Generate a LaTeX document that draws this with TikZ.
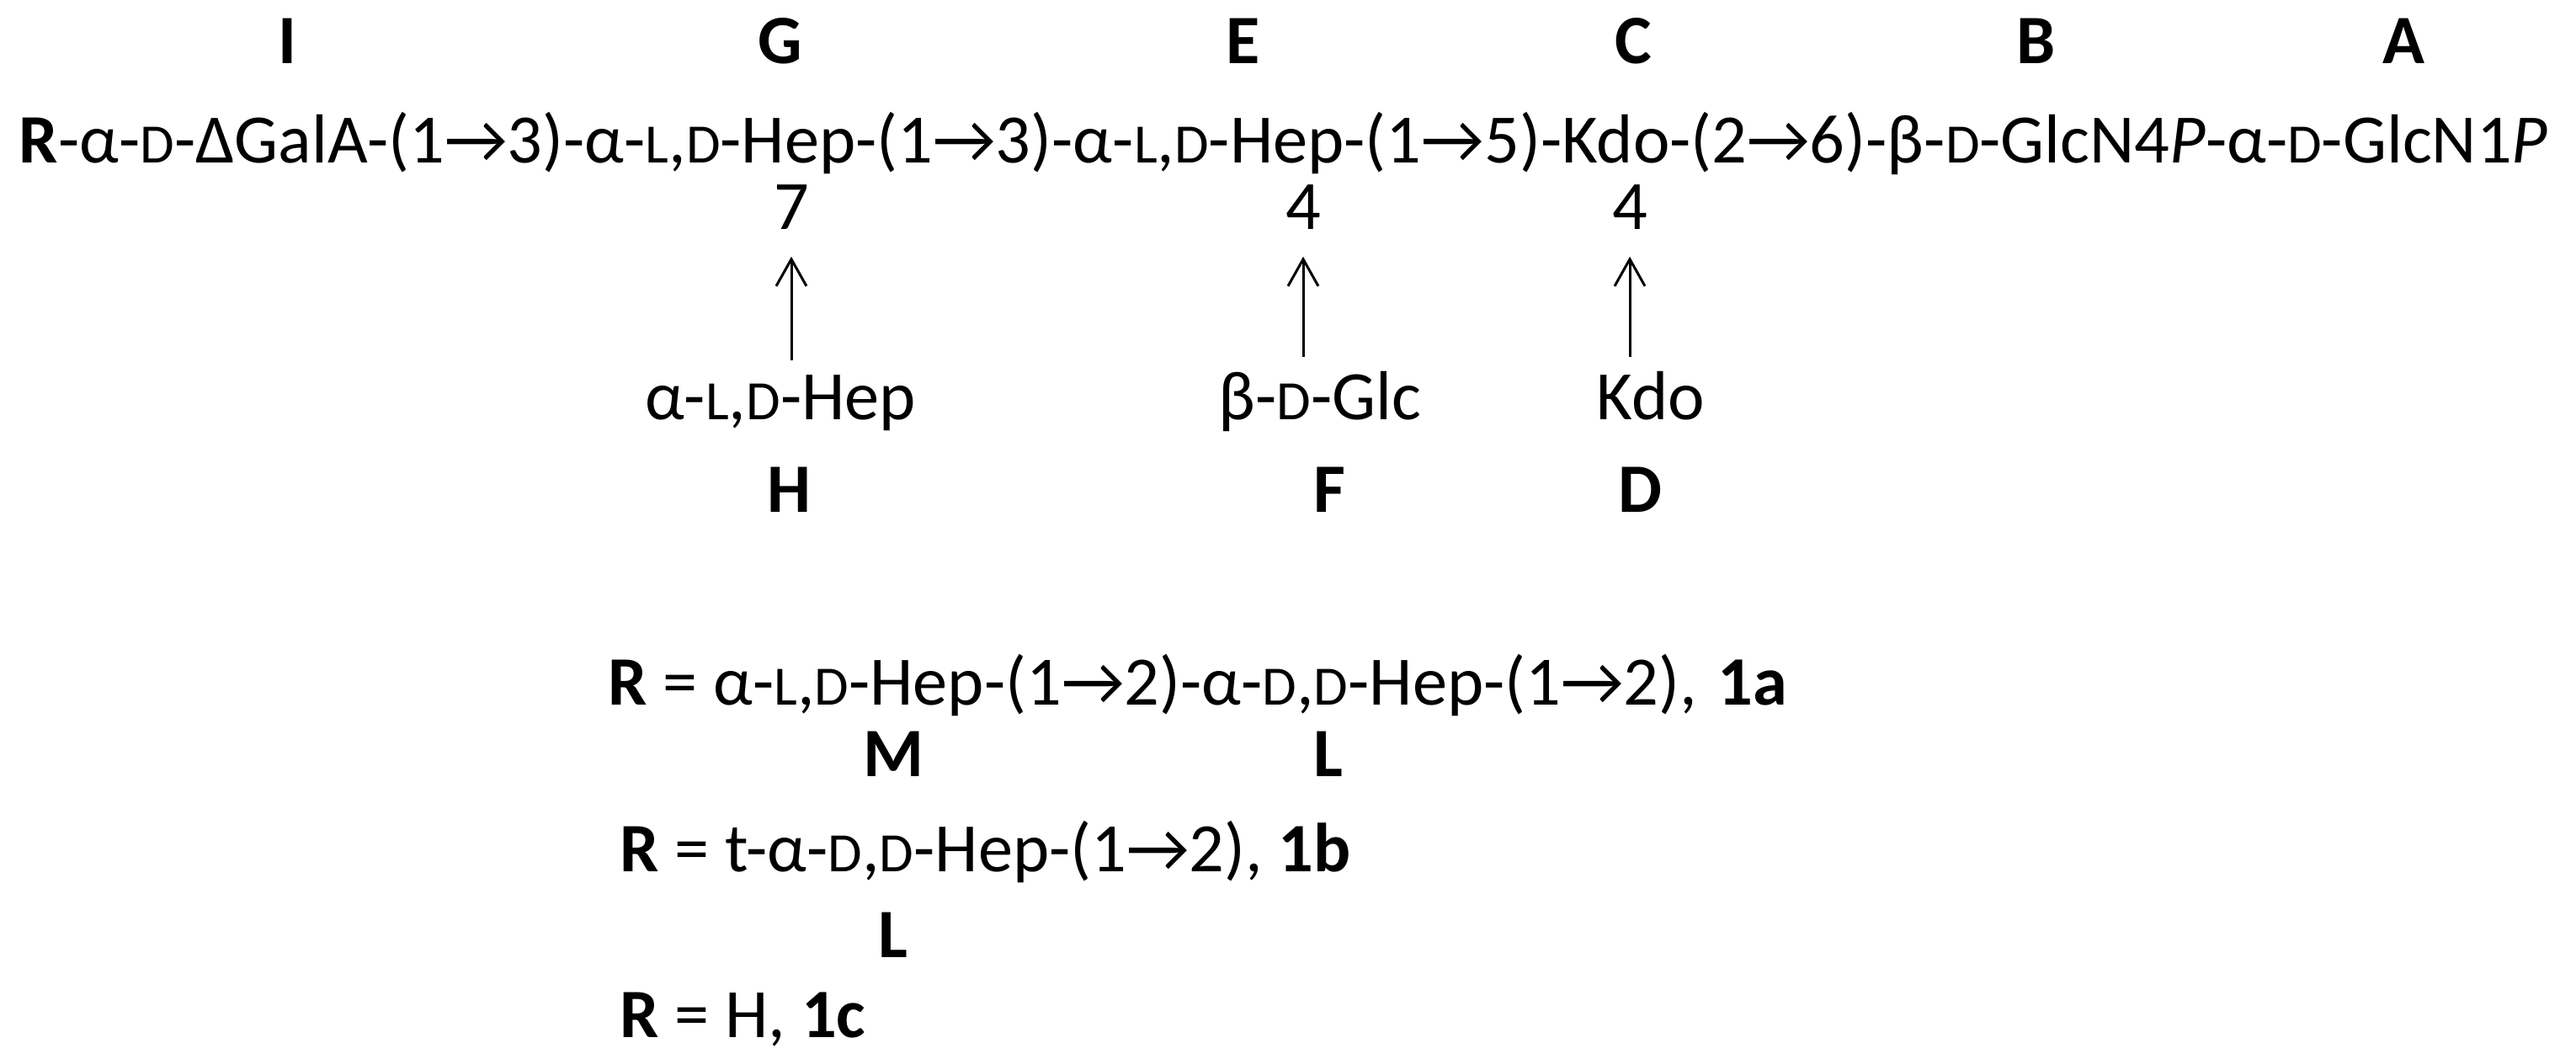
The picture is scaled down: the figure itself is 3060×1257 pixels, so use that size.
\documentclass[tikz,border=0pt]{standalone}
\usepackage{fontspec}
\setmainfont{Carlito}
\usetikzlibrary{arrows.meta}
\newcommand{\lsc}[1]{{\fontsize{16.5}{16.5}\selectfont #1}}

\begin{document}
\begin{tikzpicture}[x=0.25pt,y=-0.25pt,
  txt/.style={anchor=base west,inner sep=0pt,font=\fontsize{20.6}{25}\selectfont},
  num/.style={anchor=base,inner sep=0pt,font=\fontsize{20.6}{25}\selectfont},
  lab/.style={anchor=base,inner sep=0pt,font=\fontsize{20.6}{25}\selectfont\bfseries},
  link/.style={-{Straight Barb[length=8pt,width=9pt]},line width=0.75pt,shorten >=8pt,shorten <=4pt}]
\useasboundingbox (0,0) rectangle (3060,1257);

% Residue letters, top row
\node[lab] (labI) at (341,75) {I};
\node[lab] (labG) at (927,75) {G};
\node[lab] (labE) at (1477,75) {E};
\node[lab] (labC) at (1940,75) {C};
\node[lab] (labB) at (2419,75) {B};
\node[lab] (labA) at (2855,75) {A};

% Text Node: main chain
\node[txt] (chain) at (22,193) {\textbf{R}-α-\lsc{D}-ΔGalA-(1→3)-α-\lsc{L},\lsc{D}-Hep-(1→3)-α-\lsc{L},\lsc{D}-Hep-(1→5)-Kdo-(2→6)-β-\lsc{D}-GlcN4\textit{P}-α-\lsc{D}-GlcN1\textit{P}};

% Substitution positions
\node[num] (posG) at (940,272) {7};
\node[num] (posE) at (1548,272) {4};
\node[num] (posC) at (1936,272) {4};

% Branches
\node[num] (brH) at (927,498) {α-\lsc{L},\lsc{D}-Hep};
\node[num] (brF) at (1568,498) {β-\lsc{D}-Glc};
\node[num] (brD) at (1961,498) {Kdo};

\draw[link] (brH.north -| posG) -- (posG.south);
\draw[link] (brF.north -| posE) -- (posE.south);
\draw[link] (brD.north -| posC) -- (posC.south);

% Residue letters, branches
\node[lab] (labH) at (937,608) {H};
\node[lab] (labF) at (1579,608) {F};
\node[lab] (labD) at (1948,608) {D};

% Definitions of R
\node[txt] (r1a) at (722,837) {\textbf{R} = α-\lsc{L},\lsc{D}-Hep-(1→2)-α-\lsc{D},\lsc{D}-Hep-(1→2),\hspace{6pt}\textbf{1a}};
\node[lab] (labM) at (1061,922) {M};
\node[lab] (labL) at (1578,922) {L};
\node[txt] (r1b) at (736,1035) {\textbf{R} = t-α-\lsc{D},\lsc{D}-Hep-(1→2), \textbf{1b}};
\node[lab] (labLb) at (1061,1137) {L};
\node[txt] (r1c) at (736,1232) {\textbf{R} = H, \textbf{1c}};

\end{tikzpicture}
\end{document}
